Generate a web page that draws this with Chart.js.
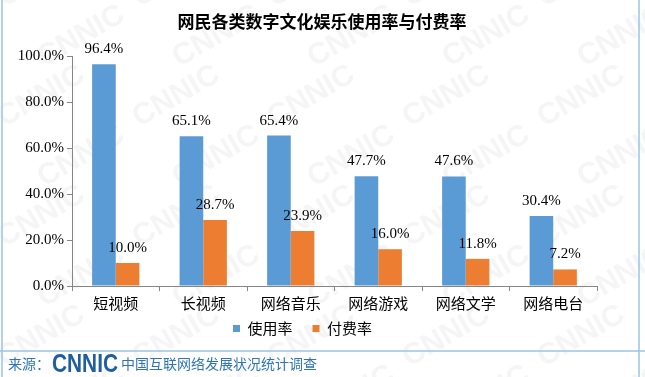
<!DOCTYPE html>
<html>
<head>
<meta charset="utf-8">
<script src="https://cdn.jsdelivr.net/npm/chart.js@4/dist/chart.umd.min.js"></script>
<style>
  html, body { margin: 0; padding: 0; background: #fff; }
  #wrap { width: 645px; height: 377px; }
</style>
</head>
<body>
<div id="wrap"><canvas id="chart" width="645" height="377"></canvas></div>
<script>
const categories = ["短视频", "长视频", "网络音乐", "网络游戏", "网络文学", "网络电台"];
const usageRate = [96.4, 65.1, 65.4, 47.7, 47.6, 30.4];
const payRate = [10.0, 28.7, 23.9, 16.0, 11.8, 7.2];
const yTicks = [0, 20, 40, 60, 80, 100];

const serif = '"Liberation Serif", "Times New Roman", serif';
const cjk = '"Noto Sans CJK SC", sans-serif';
const sans = '"Liberation Sans", Arial, sans-serif';

// faint diagonal CNNIC watermark, page frame and source line
const decor = {
    id: "decor",
    beforeDraw(chart) {
        // pull the legend up a little, closer to the category labels
        const lg = chart.legend;
        const h = lg.bottom - lg.top;
        lg.top = 301;
        lg.bottom = lg.top + h;

        const ctx = chart.ctx;
        ctx.save();
        ctx.fillStyle = "#fff";
        ctx.fillRect(0, 0, chart.width, chart.height);
        ctx.fillStyle = "rgba(200,200,200,0.18)";
        ctx.font = "bold 30px " + sans;
        for (let row = -2; row < 8; row++) {
            for (let col = -1; col < 7; col++) {
                ctx.save();
                ctx.translate(col * 135 + (row % 2) * 40, row * 60);
                ctx.rotate(-Math.PI / 6);
                ctx.fillText("CNNIC", 0, 0);
                ctx.restore();
            }
        }
        ctx.restore();
    },
    afterDraw(chart) {
        const ctx = chart.ctx;
        ctx.save();
        // title
        ctx.fillStyle = "#000";
        ctx.font = "bold 17px " + cjk;
        ctx.textAlign = "center";
        ctx.textBaseline = "middle";
        ctx.fillText("网民各类数字文化娱乐使用率与付费率", 322, 22);

        // frame
        ctx.strokeStyle = "#9DC3E6";
        ctx.lineWidth = 1.5;
        ctx.beginPath();
        ctx.moveTo(2, 0); ctx.lineTo(2, 377);
        ctx.moveTo(639, 0); ctx.lineTo(639, 377);
        ctx.moveTo(0, 351); ctx.lineTo(645, 351);
        ctx.stroke();

        // source
        ctx.textAlign = "left";
        ctx.fillStyle = "#2E75B6";
        ctx.font = "14px " + cjk;
        ctx.fillText("来源：", 8, 364);
        ctx.fillStyle = "#1F5F9F";
        ctx.font = "bold 26px " + sans;
        const w = ctx.measureText("CNNIC").width;
        ctx.save();
        ctx.translate(52, 364);
        ctx.scale(66 / w, 1);
        ctx.fillText("CNNIC", 0, 1);
        ctx.restore();
        ctx.fillStyle = "#2E75B6";
        ctx.font = "14px " + cjk;
        ctx.fillText("中国互联网络发展状况统计调查", 121, 364);
        ctx.restore();
    }
};

// value labels above bars
const valueLabels = {
    id: "valueLabels",
    afterDatasetsDraw(chart) {
        const ctx = chart.ctx;
        ctx.save();
        ctx.fillStyle = "#000";
        ctx.font = "15px " + serif;
        ctx.textAlign = "center";
        ctx.textBaseline = "middle";
        chart.data.datasets.forEach((ds, i) => {
            chart.getDatasetMeta(i).data.forEach((bar, j) => {
                ctx.fillText(ds.data[j].toFixed(1) + "%", bar.x, bar.y - 15);
            });
        });
        ctx.restore();
    }
};

new Chart(document.getElementById("chart"), {
    type: "bar",
    data: {
        labels: categories,
        datasets: [
            { label: "使用率", data: usageRate, backgroundColor: "#5B9BD5" },
            { label: "付费率", data: payRate, backgroundColor: "#ED7D31" }
        ]
    },
    options: {
        responsive: false,
        animation: false,
        devicePixelRatio: 1,
        categoryPercentage: 0.54,
        barPercentage: 1,
        layout: { padding: { left: 8, right: 48, top: 56, bottom: 18 } },
        plugins: {
            legend: {
                position: "bottom",
                labels: {
                    boxWidth: 7,
                    boxHeight: 7,
                    padding: 20,
                    color: "#000",
                    font: { family: cjk, size: 15 }
                }
            },
            tooltip: { enabled: false },
            title: { display: false }
        },
        scales: {
            x: {
                grid: {
                    display: true,
                    drawOnChartArea: false,
                    drawTicks: true,
                    tickLength: 5,
                    color: "#868686"
                },
                border: { color: "#868686" },
                ticks: { color: "#000", font: { family: cjk, size: 15 }, padding: 3 },
                afterFit(s) { s.height = 28; }
            },
            y: {
                min: 0,
                max: 100,
                afterBuildTicks(s) { s.ticks = yTicks.map(v => ({ value: v })); },
                grid: {
                    display: true,
                    drawOnChartArea: false,
                    drawTicks: true,
                    tickLength: 5,
                    color: "#868686"
                },
                border: { color: "#868686" },
                ticks: {
                    color: "#000",
                    font: { family: serif, size: 15 },
                    padding: 3,
                    callback: v => v.toFixed(1) + "%"
                },
                afterFit(s) { s.width = 64; }
            }
        }
    },
    plugins: [decor, valueLabels]
});
</script>
</body>
</html>
